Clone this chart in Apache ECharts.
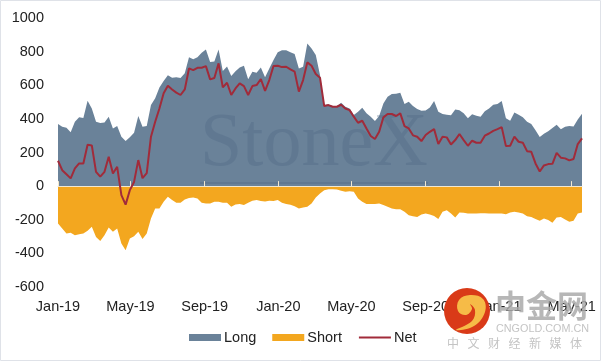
<!DOCTYPE html>
<html>
<head>
<meta charset="utf-8">
<style>
  html, body { margin: 0; padding: 0; background: #fff; }
  #main { width: 601px; height: 361px; }
</style>
<script src="https://cdn.jsdelivr.net/npm/echarts@6/dist/echarts.min.js"></script>
</head>
<body>
<div id="main"></div>
<script>
// weekly positioning report
var longValues = [
  369, 353, 347, 321, 383, 409, 405, 508, 462, 383, 375, 379, 413, 343, 357, 294, 268, 290, 317, 417,
  353, 357, 482, 522, 587, 625, 659, 645, 647, 643, 671, 766, 754, 766, 794, 813, 738, 742, 813, 685,
  712, 655, 683, 706, 716, 635, 681, 675, 706, 647, 700, 750, 796, 808, 808, 796, 786, 700,
  710, 849, 819, 780, 661, 482, 486, 476, 476, 496, 472, 462, 423, 442, 466, 433, 413, 387, 417, 492,
  532, 548, 550, 556, 488, 502, 476, 458, 448, 450, 468, 506, 442, 429, 425, 421, 456, 452, 433, 403,
  427, 419, 413, 446, 462, 484, 488, 506, 403, 389, 438, 425, 409, 383, 369, 333, 292, 312, 327, 345,
  365, 339, 353, 357, 355, 397, 431
];
var shortValues = [
  -222, -252, -282, -278, -292, -286, -282, -266, -242, -302, -327, -292, -246, -272, -252, -341, -381, -312, -298, -272,
  -315, -282, -192, -133, -133, -93, -63, -83, -99, -99, -79, -71, -67, -73, -99, -103, -103, -93, -93, -99,
  -99, -123, -109, -107, -113, -99, -87, -83, -89, -91, -87, -89, -83, -99, -107, -111, -119, -133,
  -127, -123, -103, -67, -44, -24, -18, -18, -20, -28, -34, -30, -34, -73, -93, -107, -107, -107, -103, -113,
  -123, -133, -137, -137, -153, -173, -179, -183, -169, -163, -169, -177, -196, -153, -143, -163, -187, -157, -159, -163,
  -163, -163, -161, -161, -163, -163, -163, -163, -167, -157, -153, -157, -163, -179, -183, -196, -206, -192, -202, -218,
  -187, -183, -198, -212, -206, -163, -157
];
var netValues = [
  151, 95, 71, 46, 105, 135, 135, 246, 242, 85, 56, 85, 175, 75, 115, -54, -110, -24, 25, 155,
  47, 77, 294, 383, 462, 552, 597, 575, 556, 542, 575, 700, 690, 704, 704, 714, 635, 643, 730, 587,
  615, 542, 581, 611, 595, 542, 595, 601, 637, 567, 631, 714, 716, 708, 710, 694, 681, 562,
  631, 736, 716, 667, 645, 476, 482, 472, 472, 484, 462, 452, 413, 377, 389, 343, 298, 280, 323, 409,
  429, 429, 417, 433, 357, 343, 302, 294, 268, 304, 323, 339, 250, 294, 290, 248, 274, 310, 274, 240,
  270, 258, 258, 300, 313, 329, 339, 351, 238, 240, 294, 264, 258, 208, 204, 135, 87, 123, 131, 133,
  198, 169, 165, 153, 161, 250, 284
];
// ticks sit on the first of the month, so between the weekly points
var tickWeeks = [0, 17.14, 34.71, 52.14, 69.43, 87, 104.43, 121.57];
var tickLabels = ['Jan-19', 'May-19', 'Sep-19', 'Jan-20', 'May-20', 'Sep-20', 'Jan-21', 'May-21'];
var footerChars = ['中', '文', '财', '经', '新', '媒', '体'];

function toPairs(values) {
  return values.map(function (v, i) { return [i, v]; });
}
var lastWeek = longValues.length - 1;
var font = '"Liberation Sans", Arial, sans-serif';

var graphics = [
  // page border
  { type: 'rect', z: 50, shape: { x: 0.5, y: 0.5, width: 600, height: 360 }, style: { fill: 'none', stroke: '#dfe2e8', lineWidth: 1 } },
  // StoneX watermark, under the net line
  { type: 'text', z: 3, x: 200, y: 107, style: { text: 'StoneX', font: '76px "Liberation Serif", serif', fill: 'rgba(72,98,128,0.3)' } },
  { type: 'rect', z: 3, shape: { x: 200, y: 182, width: 228, height: 2 }, style: { fill: 'rgba(72,98,128,0.3)' } },
  // cngold logo
  { type: 'circle', z: 60, shape: { cx: 467, cy: 311, r: 23 }, style: { fill: '#d93a18' } },
  {
    type: 'polygon', z: 61,
    shape: { points: [[456, 330], [474, 326], [485, 312], [483, 299], [470, 295], [459, 300], [458, 311], [466, 315], [472, 309], [470, 304], [475, 310], [472, 321]], smooth: 0.4 },
    style: { fill: '#f6bb47' }
  },
  { type: 'text', z: 60, x: 495, y: 290, style: { text: '中金网', font: 'bold 31px "Noto Sans CJK SC"', fill: 'rgba(170,170,170,0.85)' } },
  { type: 'text', z: 60, x: 496, y: 324, style: { text: 'CNGOLD.COM.CN', font: '10.8px "Liberation Sans"', fill: '#c4c4c4' } }
];
footerChars.forEach(function (c, i) {
  graphics.push({ type: 'text', z: 60, x: 447 + i * 20.5, y: 337, style: { text: c, font: '12px "Noto Sans CJK SC"', fill: '#c4c4c4' } });
});

var myChart = echarts.init(document.getElementById('main'));
myChart.setOption({
  animation: false,
  textStyle: { fontFamily: font },
  grid: { left: 58, right: 19, top: 18, bottom: 74 },
  legend: {
    left: 184,
    top: 325,
    itemWidth: 32,
    itemHeight: 7,
    itemGap: 16,
    textStyle: { fontSize: 14.5, color: '#222', fontFamily: font, padding: [0, 0, 0, -2] },
    data: [
      { name: 'Long', icon: 'rect' },
      { name: 'Short', icon: 'rect' },
      // hide the dot the legend puts on a line series
      { name: 'Net', itemStyle: { opacity: 0 }, lineStyle: { color: '#a12b3a', width: 2, opacity: 1 } }
    ]
  },
  xAxis: [
    {
      // labels along the bottom
      type: 'value',
      min: 0,
      max: lastWeek,
      position: 'bottom',
      axisLine: { show: false, onZero: false },
      axisTick: { show: false },
      splitLine: { show: false },
      axisLabel: {
        customValues: tickWeeks,
        fontSize: 14.5,
        color: '#222',
        margin: 12,
        hideOverlap: false,
        showMinLabel: true,
        formatter: function (v) { return tickLabels[tickWeeks.indexOf(v)] || ''; }
      }
    },
    {
      // zero line with the ticks
      type: 'value',
      min: 0,
      max: lastWeek,
      z: 3,
      axisLine: { show: true, onZero: true, lineStyle: { color: '#f2e8d0', width: 1 } },
      axisTick: { show: true, customValues: tickWeeks, length: 5, lineStyle: { color: '#f2e8d0' } },
      axisLabel: { show: false },
      splitLine: { show: false }
    }
  ],
  yAxis: {
    type: 'value',
    min: -600,
    max: 1000,
    interval: 200,
    axisLine: { show: false },
    axisTick: { show: false },
    splitLine: { show: false },
    axisLabel: { fontSize: 14.5, color: '#222', margin: 14, formatter: function (v) { return String(v); } }
  },
  series: [
    {
      name: 'Long', type: 'line', symbol: 'none', data: toPairs(longValues), z: 2,
      lineStyle: { width: 0 }, itemStyle: { color: '#6a8299' }, areaStyle: { color: '#6a8299', opacity: 1 }
    },
    {
      name: 'Short', type: 'line', symbol: 'none', data: toPairs(shortValues), z: 2,
      lineStyle: { width: 0 }, itemStyle: { color: '#f3a71f' }, areaStyle: { color: '#f3a71f', opacity: 1 }
    },
    {
      name: 'Net', type: 'line', symbol: 'none', data: toPairs(netValues), z: 4,
      lineStyle: { width: 2, color: '#a12b3a' }, itemStyle: { color: '#a12b3a' }
    }
  ],
  graphic: graphics
});
</script>
</body>
</html>
